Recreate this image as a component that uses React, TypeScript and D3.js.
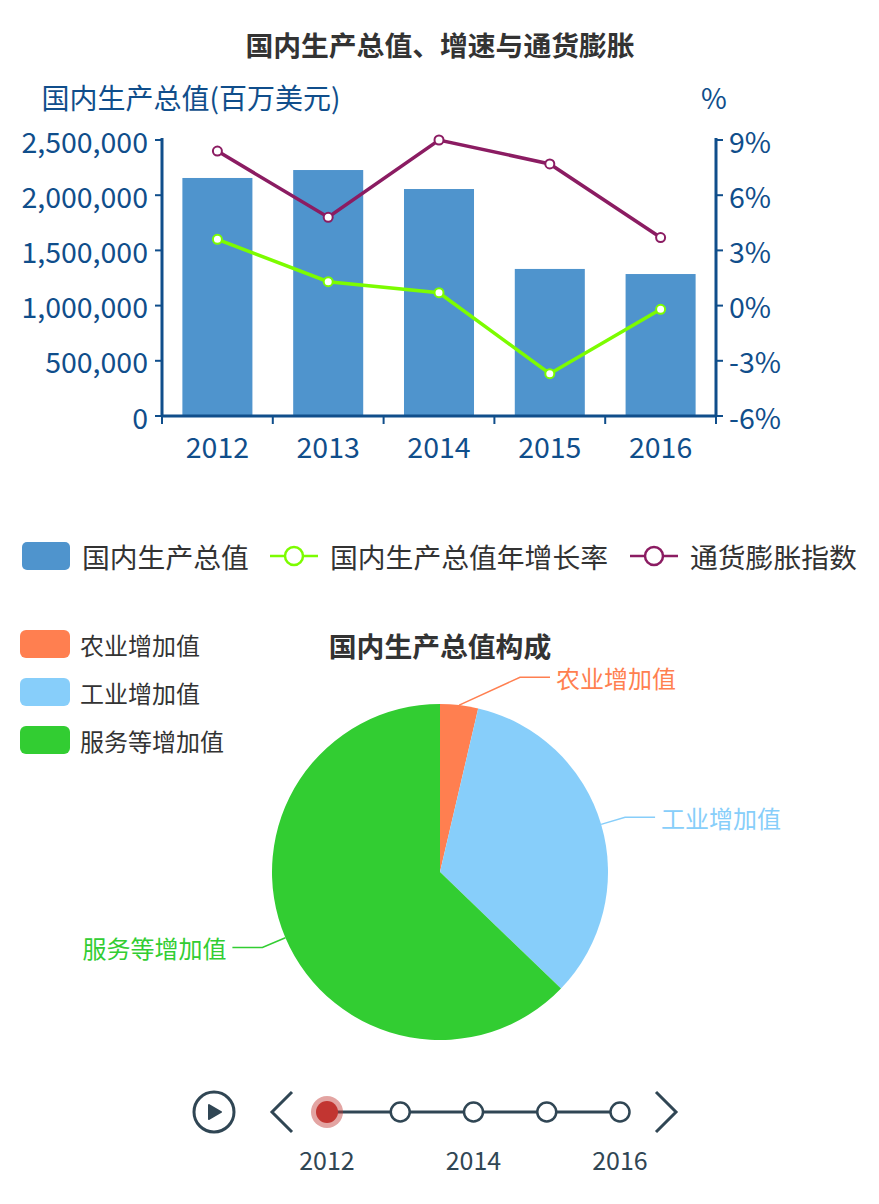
import React from "react";
import * as d3 from "d3";

const years = ["2012", "2013", "2014", "2015", "2016"];
const gdp = [2156000, 2228000, 2056000, 1332000, 1286000];
const gdpGrowth = [3.6, 1.3, 0.7, -3.7, -0.2];
const inflation = [8.4, 4.8, 9.0, 7.7, 3.7];
const leftTicks = [0, 500000, 1000000, 1500000, 2000000, 2500000];
const rightTicks = [-6, -3, 0, 3, 6, 9];
const legendItems = ["国内生产总值", "国内生产总值年增长率", "通货膨胀指数"];
const pieNames = ["农业增加值", "工业增加值", "服务等增加值"];
const pieValues = [3.65, 33.55, 62.8];
const pieColors = ["#FF7F50", "#87CEFA", "#32CD32"];
const timelineLabels = ["2012", "", "2014", "", "2016"];

const FONT = "'Noto Sans CJK SC', 'Noto Sans', sans-serif";
const AXIS = "#104E8B";
const BAR = "#4F94CD";
const GREEN = "#7CFC00";
const PURPLE = "#8B1C62";
const TL = "#304654";

export default function App() {
  const W = 879, H = 1204;
  const x0 = 162, x1 = 716, yTop = 140, yBot = 416;
  const x = d3.scaleBand<string>().domain(years).range([x0, x1]).padding(0);
  const yL = d3.scaleLinear().domain([0, 2500000]).range([yBot, yTop]);
  const yR = d3.scaleLinear().domain([-6, 9]).range([yBot, yTop]);
  const fmt = d3.format(",");
  const barW = x.bandwidth() * 0.632;
  const cx = (d: string) => (x(d) as number) + x.bandwidth() / 2;

  const lineG = d3.line<number>().x((_, i) => cx(years[i])).y((d) => yR(d));

  // pie
  const pcx = 440, pcy = 872, R = 168;
  const pie = d3.pie<number>().sort(null).value((d) => d)(pieValues);
  const arc = d3.arc<d3.PieArcDatum<number>>().innerRadius(0).outerRadius(R);

  const tx = d3.scalePoint<string>().domain(years).range([327, 620]);
  const tly = 1112;
  const NUM = 28.5;

  return (
    <svg width={W} height={H} style={{ position: "absolute", left: 0, top: 0, fontFamily: FONT }}>
      <rect width={W} height={H} fill="#fff" />
      {/* Title */}
      <text x={440} y={44} textAnchor="middle" dominantBaseline="central" fontSize={27.8} fontWeight="bold" fill="#333">
        国内生产总值、增速与通货膨胀
      </text>
      {/* axis names */}
      <text x={191} y={97} textAnchor="middle" dominantBaseline="central" fontSize={28} fill={AXIS}>
        国内生产总值(百万美元)
      </text>
      <text x={714} y={97} textAnchor="middle" dominantBaseline="central" fontSize={28} fill={AXIS}>
        %
      </text>
      {/* bars */}
      {years.map((yr, i) => (
        <rect key={yr} x={cx(yr) - barW / 2} y={yL(gdp[i])} width={barW} height={yBot - yL(gdp[i])} fill={BAR} />
      ))}
      {/* left axis */}
      <line x1={x0} x2={x0} y1={yTop - 2} y2={yBot} stroke={AXIS} strokeWidth={3} />
      {leftTicks.map((t) => (
        <g key={t}>
          <line x1={x0 - 7} x2={x0} y1={yL(t)} y2={yL(t)} stroke={AXIS} strokeWidth={2} />
          <text x={x0 - 14} y={yL(t)} textAnchor="end" dominantBaseline="central" fontSize={NUM} fill={AXIS}>
            {fmt(t)}
          </text>
        </g>
      ))}
      {/* right axis */}
      <line x1={x1} x2={x1} y1={yTop - 2} y2={yBot} stroke={AXIS} strokeWidth={3} />
      {rightTicks.map((t) => (
        <g key={t}>
          <line x1={x1} x2={x1 + 7} y1={yR(t)} y2={yR(t)} stroke={AXIS} strokeWidth={2} />
          <text x={x1 + 13} y={yR(t)} textAnchor="start" dominantBaseline="central" fontSize={NUM} fill={AXIS}>
            {t + "%"}
          </text>
        </g>
      ))}
      {/* bottom axis */}
      <line x1={x0 - 1} x2={x1 + 1} y1={yBot} y2={yBot} stroke={AXIS} strokeWidth={3} />
      {[...years.map((y) => x(y) as number), x1].map((bx, i) => (
        <line key={i} x1={bx} x2={bx} y1={yBot} y2={yBot + 8} stroke={AXIS} strokeWidth={2} />
      ))}
      {years.map((yr) => (
        <text key={yr} x={cx(yr)} y={445} textAnchor="middle" dominantBaseline="central" fontSize={NUM} fill={AXIS}>
          {yr}
        </text>
      ))}
      {/* lines */}
      <path d={lineG(gdpGrowth) as string} fill="none" stroke={GREEN} strokeWidth={3.5} />
      {gdpGrowth.map((v, i) => (
        <circle key={i} cx={cx(years[i])} cy={yR(v)} r={4.5} fill="#fff" stroke={GREEN} strokeWidth={2} />
      ))}
      <path d={lineG(inflation) as string} fill="none" stroke={PURPLE} strokeWidth={3.5} />
      {inflation.map((v, i) => (
        <circle key={i} cx={cx(years[i])} cy={yR(v)} r={4.5} fill="#fff" stroke={PURPLE} strokeWidth={2} />
      ))}
      {/* legend top */}
      <g>
        <rect x={22} y={542} width={48} height={28} rx={5} fill={BAR} />
        <text x={82} y={556} dominantBaseline="central" fontSize={27.8} fill="#333">{legendItems[0]}</text>
        <line x1={270} x2={318} y1={556} y2={556} stroke={GREEN} strokeWidth={2.5} />
        <circle cx={294} cy={556} r={9} fill="#fff" stroke={GREEN} strokeWidth={2.5} />
        <text x={330} y={556} dominantBaseline="central" fontSize={27.8} fill="#333">{legendItems[1]}</text>
        <line x1={630} x2={678} y1={556} y2={556} stroke={PURPLE} strokeWidth={2.5} />
        <circle cx={654} cy={556} r={9} fill="#fff" stroke={PURPLE} strokeWidth={2.5} />
        <text x={690} y={556} dominantBaseline="central" fontSize={27.8} fill="#333">{legendItems[2]}</text>
      </g>
      {/* pie legend */}
      {pieNames.map((n, i) => (
        <g key={n}>
          <rect x={20} y={630 + i * 48} width={50} height={28} rx={6} fill={pieColors[i]} />
          <text x={80} y={644 + i * 48} dominantBaseline="central" fontSize={24} fill="#333">{n}</text>
        </g>
      ))}
      <text x={440} y={645} textAnchor="middle" dominantBaseline="central" fontSize={27.8} fontWeight="bold" fill="#333">
        国内生产总值构成
      </text>
      {/* pie */}
      <g transform={`translate(${pcx},${pcy})`}>
        {pie.map((p, i) => (
          <path key={i} d={arc(p) as string} fill={pieColors[i]} />
        ))}
      </g>
      {pie.map((p, i) => {
        const mid = (p.startAngle + p.endAngle) / 2;
        const sx = pcx + R * Math.sin(mid), sy = pcy - R * Math.cos(mid);
        const dir = Math.sin(mid) >= 0 ? 1 : -1;
        const ex0 = (R + 25) * Math.sin(mid);
        const ex = pcx + dir * Math.max(Math.abs(ex0), 80);
        const ey = pcy - (R + 25) * Math.cos(mid) - (Math.abs(ex0) < 80 ? 3 : 0);
        const hx = ex + dir * 30;
        return (
          <g key={i}>
            <polyline points={`${sx},${sy} ${ex},${ey} ${hx},${ey}`} fill="none" stroke={pieColors[i]} strokeWidth={1.5} />
            <text x={hx + dir * 6} y={ey} textAnchor={dir > 0 ? "start" : "end"} dominantBaseline="central" fontSize={24} fill={pieColors[i]}>
              {pieNames[i]}
            </text>
          </g>
        );
      })}
      {/* timeline */}
      <g>
        <circle cx={214} cy={tly} r={20} fill="none" stroke={TL} strokeWidth={3} />
        <path d={`M${209},${tly - 7} L${221},${tly} L${209},${tly + 7} Z`} fill={TL} stroke={TL} strokeWidth={2} strokeLinejoin="round" />
        <polyline points={`292,${tly - 20} 272,${tly} 292,${tly + 20}`} fill="none" stroke={TL} strokeWidth={3} />
        <polyline points={`656,${tly - 20} 676,${tly} 656,${tly + 20}`} fill="none" stroke={TL} strokeWidth={3} />
        <line x1={tx(years[0])} x2={tx(years[years.length - 1])} y1={tly} y2={tly} stroke={TL} strokeWidth={3} />
        {years.map((yr, i) =>
          i === 0 ? (
            <g key={yr}>
              <circle cx={tx(yr)} cy={tly} r={16} fill="rgba(194,53,49,0.45)" />
              <circle cx={tx(yr)} cy={tly} r={11} fill="#c23531" />
            </g>
          ) : (
            <circle key={yr} cx={tx(yr)} cy={tly} r={9.5} fill="#fff" stroke={TL} strokeWidth={2.5} />
          )
        )}
        {timelineLabels.map((l, i) =>
          l ? (
            <text key={i} x={tx(years[i])} y={1159} textAnchor="middle" dominantBaseline="central" fontSize={25} fill={TL}>
              {l}
            </text>
          ) : null
        )}
      </g>
    </svg>
  );
}
